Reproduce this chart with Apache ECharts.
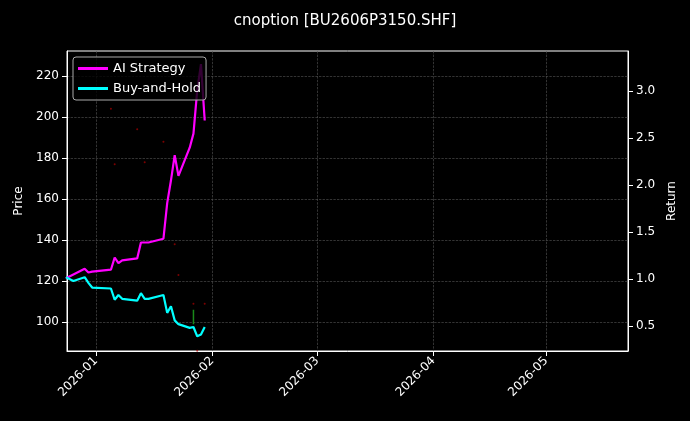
<!DOCTYPE html>
<html><head><meta charset="utf-8">
<script src="https://cdn.jsdelivr.net/npm/echarts@6/dist/echarts.min.js"></script>
<style>html,body{margin:0;background:#000}#c{width:690px;height:421px}</style></head>
<body><div id="c"></div>
<script>
const dates = ['2025-12-24','2025-12-26','2025-12-29','2025-12-30','2025-12-31','2026-01-05','2026-01-06','2026-01-07','2026-01-08','2026-01-12','2026-01-13','2026-01-14','2026-01-15','2026-01-19','2026-01-20','2026-01-21','2026-01-22','2026-01-23','2026-01-26','2026-01-27','2026-01-28','2026-01-29','2026-01-30'];
const aiReturn = [1.01,1.05,1.11,1.07,1.08,1.10,1.23,1.17,1.20,1.22,1.39,1.39,1.39,1.43,1.81,2.05,2.32,2.10,2.40,2.55,3.01,3.29,2.69];
const bhReturn = [1.02,0.98,1.02,0.96,0.91,0.90,0.78,0.83,0.79,0.77,0.85,0.79,0.79,0.83,0.64,0.71,0.56,0.52,0.48,0.49,0.39,0.41,0.49];
const priceDotDates = ['2026-01-05','2026-01-06','2026-01-14','2026-01-12','2026-01-19','2026-01-22','2026-01-23','2026-01-27','2026-01-30','2026-01-28'];
const priceDotValues = [204,177,178,194,188,138,123,109,109,86];
const greenCandleDate = '2026-01-27';
const greenCandleRange = [99,106];
const priceTicks = [100,120,140,160,180,200,220];
const returnTicks = [0.5,1.0,1.5,2.0,2.5,3.0];
const monthTicks = ['2026-01-01','2026-02-01','2026-03-01','2026-04-01','2026-05-01'];

const ms = d => Date.UTC(+d.slice(0,4), +d.slice(5,7)-1, +d.slice(8,10));
const fmt = v => { const d = new Date(v); return d.getUTCFullYear() + '-' + String(d.getUTCMonth()+1).padStart(2,'0'); };
const chart = echarts.init(document.getElementById('c'));
const txt = '#ffffff';
const split = {show:true,lineStyle:{color:'#555',type:'dashed',width:0.6}};
chart.setOption({
  backgroundColor:'#000',
  animation:false,
  title:{text:'cnoption [BU2606P3150.SHF]',left:'center',top:9,textStyle:{color:txt,fontSize:15,fontWeight:'normal',fontFamily:'DejaVu Sans'}},
  legend:{left:73,top:57,orient:'vertical',itemGap:7,itemWidth:30,itemHeight:3,backgroundColor:'rgba(0,0,0,0.8)',borderColor:'#aaa',borderWidth:1,borderRadius:3,padding:[5,5],
    textStyle:{color:txt,fontSize:13,fontFamily:'DejaVu Sans'},
    data:[{name:'AI Strategy',icon:'rect'},{name:'Buy-and-Hold',icon:'rect'}]},
  grid:{left:67,right:62,top:51,bottom:70,show:true,borderColor:'#fff',borderWidth:1},
  xAxis:{type:'value',min:ms('2025-12-24')+7*3600e3,max:ms('2026-05-22')+20*3600e3,
    axisLine:{lineStyle:{color:'#fff'}},axisTick:{show:true,customValues:monthTicks.map(ms),lineStyle:{color:'#fff'}},
    axisLabel:{customValues:monthTicks.map(ms),color:txt,rotate:45,fontSize:12,fontFamily:'DejaVu Sans',formatter:fmt},
    splitLine:split},
  yAxis:[
    {type:'value',name:'Price',nameLocation:'middle',nameGap:42,nameTextStyle:{color:txt,fontSize:12,fontFamily:'DejaVu Sans'},min:85.9,max:232.2,
      axisLine:{show:true,lineStyle:{color:'#fff'}},axisTick:{show:true,customValues:priceTicks,lineStyle:{color:'#fff'}},
      axisLabel:{customValues:priceTicks,color:txt,fontSize:12,fontFamily:'DejaVu Sans'},splitLine:split},
    {type:'value',name:'Return',nameLocation:'middle',nameGap:38,nameTextStyle:{color:txt,fontSize:12,fontFamily:'DejaVu Sans'},min:0.234,max:3.43,
      axisLine:{show:true,lineStyle:{color:'#fff'}},axisTick:{show:true,customValues:returnTicks,lineStyle:{color:'#fff'}},
      axisLabel:{customValues:returnTicks,color:txt,fontSize:12,fontFamily:'DejaVu Sans',formatter:v=>v.toFixed(1)},splitLine:{show:false}}
  ],
  series:[
    {type:'scatter',yAxisIndex:0,symbolSize:2,itemStyle:{color:'#b00000',opacity:0.7},silent:true,
      data:priceDotDates.map((d,i)=>[ms(d),priceDotValues[i]])},
    {type:'line',yAxisIndex:0,symbol:'none',lineStyle:{color:'#1a8a1a',width:1.5},silent:true,
      data:greenCandleRange.map(v=>[ms(greenCandleDate),v])},
    {name:'AI Strategy',type:'line',yAxisIndex:1,symbol:'none',color:'#ff00ff',lineStyle:{width:2.2},
      data:dates.map((d,i)=>[ms(d),aiReturn[i]])},
    {name:'Buy-and-Hold',type:'line',yAxisIndex:1,symbol:'none',color:'#00ffff',lineStyle:{width:2.2},
      data:dates.map((d,i)=>[ms(d),bhReturn[i]])}
  ]
});
</script></body></html>
